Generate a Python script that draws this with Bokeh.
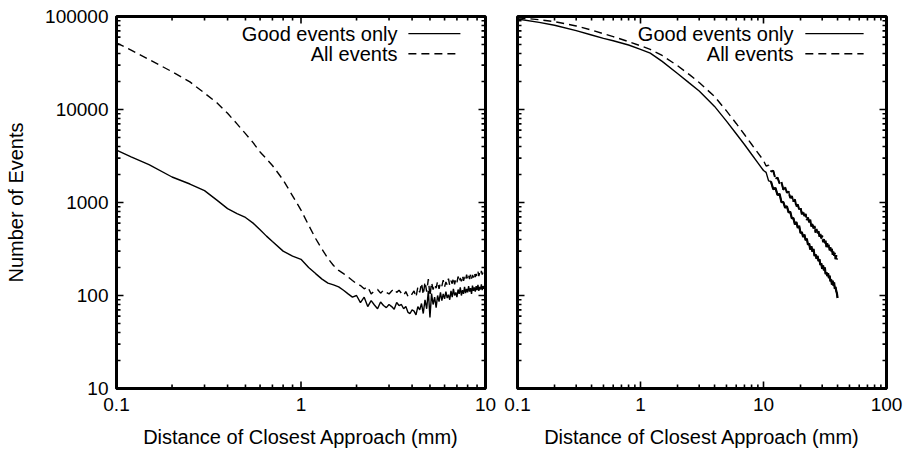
from math import log10
from bokeh.plotting import figure
from bokeh.models import FixedTicker, Label, Range1d, CustomJSTickFormatter
from bokeh.layouts import row
from bokeh.embed import file_html
from bokeh.resources import INLINE

FONT = "Liberation Sans"

# ---------------- data ----------------
y_ticks = [10, 100, 1000, 10000, 100000]
y_tick_labels = ["10", "100", "1000", "10000", "100000"]
x_ticks_left = [0.1, 1, 10]
x_tick_labels_left = ["0.1", "1", "10"]
x_ticks_right = [0.1, 1, 10, 100]
x_tick_labels_right = ["0.1", "1", "10", "100"]

x_title = "Distance of Closest Approach (mm)"
y_title = "Number of Events"
legend_labels = ["Good events only", "All events"]

left_x = [0.10, 0.12, 0.15, 0.20, 0.25, 0.30, 0.35, 0.40, 0.45, 0.50, 0.55, 0.60, 0.65,
          0.70, 0.80, 0.90, 1.0, 1.1, 1.2, 1.3, 1.4, 1.5, 1.6, 1.7, 1.8, 1.9,
          2.0, 2.1, 2.2, 2.3, 2.4, 2.5, 2.6, 2.7, 2.8, 2.9,
          3.0, 3.1, 3.2, 3.3, 3.4, 3.5, 3.6, 3.7, 3.8, 3.9,
          4.0, 4.1, 4.2, 4.3, 4.4, 4.5, 4.6, 4.7, 4.8, 4.9,
          5.0, 5.1, 5.2, 5.3, 5.4, 5.5, 5.6, 5.7, 5.8, 5.9,
          6.0, 6.1, 6.2, 6.3, 6.4, 6.5, 6.6, 6.7, 6.8, 6.9,
          7.0, 7.1, 7.2, 7.3, 7.4, 7.5, 7.6, 7.7, 7.8, 7.9,
          8.0, 8.1, 8.2, 8.3, 8.4, 8.5, 8.6, 8.7, 8.8, 8.9,
          9.0, 9.1, 9.2, 9.3, 9.4, 9.5, 9.6, 9.7, 9.8, 9.9, 10.0]

left_good = [3650, 3100, 2550, 1880, 1580, 1340, 1060, 860, 760, 690, 600, 510, 435,
             380, 300, 265, 245, 200, 172, 150, 136, 130, 124, 114, 104, 96,
             100, 84, 96, 76, 88, 79, 72, 85, 78, 74,
             80, 76, 71, 84, 78, 80, 72, 76, 66, 64,
             70, 68, 62, 76, 70, 82, 64, 90, 72, 112,
             58, 105, 80, 96, 74, 100, 86, 108, 88, 104,
             92, 110, 94, 102, 90, 112, 96, 118, 100, 108,
             96, 116, 104, 122, 100, 114, 104, 124, 106, 118,
             108, 126, 110, 120, 104, 128, 112, 122, 110, 126,
             114, 130, 112, 124, 116, 132, 114, 126, 118, 130, 120]

left_all = [52000, 43500, 34500, 25500, 19800, 15000, 11800, 9100, 7000, 5500, 4400, 3500, 2950,
            2500, 1750, 1180, 830, 570, 410, 315, 250, 210, 186, 172, 158, 145,
            134, 128, 118, 124, 104, 112, 116, 106, 114, 108,
            104, 112, 118, 108, 114, 106, 100, 110, 98, 96,
            104, 112, 96, 124, 108, 136, 102, 140, 110, 150,
            98, 138, 116, 132, 120, 142, 118, 136, 126, 146,
            124, 140, 130, 152, 128, 144, 134, 156, 132, 150,
            138, 160, 140, 154, 142, 164, 144, 158, 146, 168,
            148, 162, 150, 170, 152, 166, 156, 176, 158, 170,
            160, 180, 162, 174, 164, 184, 168, 178, 170, 186, 176]

right_x = [0.1, 0.15, 0.2, 0.3, 0.4, 0.5, 0.6, 0.8, 1.0, 1.2, 1.5, 2.0, 2.5, 3.0, 3.5, 4.0,
           5.0, 6.0, 7.0, 8.0, 9.0, 10.0,
           10.5, 11.0, 11.5, 12.0, 12.5, 13.0, 13.5, 14.0, 14.5, 15.0,
           15.5, 16.0, 16.5, 17.0, 17.5, 18.0, 18.5, 19.0, 19.5, 20.0,
           20.5, 21.0, 21.5, 22.0, 22.5, 23.0, 23.5, 24.0, 24.5, 25.0,
           25.5, 26.0, 26.5, 27.0, 27.5, 28.0, 28.5, 29.0, 29.5, 30.0,
           30.5, 31.0, 31.5, 32.0, 32.5, 33.0, 33.5, 34.0, 34.5, 35.0,
           35.5, 36.0, 36.5, 37.0, 37.5, 38.0, 38.5, 39.0, 39.5, 40.0]

right_good = [94000, 86500, 80600, 70400, 63200, 58100, 54800, 49400, 44400, 40400, 32900,
              24400, 19200, 15800, 12900, 10800, 7500, 5480, 4200, 3300, 2670, 2210,
              2107, 1709, 1684, 1388, 1435, 1206, 1239, 1007, 1013, 877,
              913, 780, 797, 671, 683, 580, 617, 533, 562, 468,
              481, 426, 452, 393, 409, 350, 363, 312, 338, 296,
              316, 266, 277, 248, 266, 234, 246, 213, 222, 193,
              211, 186, 200, 170, 178, 162, 174, 154, 163, 142,
              149, 131, 144, 128, 138, 118, 124, 112, 106, 94]

right_all = [97000, 92500, 88100, 79100, 71500, 65300, 60700, 53700, 48400, 44300, 38100,
             29600, 23700, 19500, 16200, 13800, 9660, 7080, 5380, 4230, 3420, 2830,
             2468, 2515, 2149, 2200, 1798, 1857, 1605, 1662, 1372, 1458,
             1273, 1315, 1116, 1171, 1028, 1080, 903, 954, 841, 888,
             747, 807, 716, 752, 648, 689, 613, 652, 552, 590,
             525, 561, 475, 520, 465, 492, 428, 459, 411, 440,
             375, 404, 363, 389, 332, 365, 329, 350, 306, 330,
             297, 317, 274, 296, 267, 288, 246, 272, 246, 248]

# ---------------- helpers ----------------
H = 453
FRAME_H = 372
Y_RANGE = (10, 100000)
DEC_Y = (log10(Y_RANGE[1]) - log10(Y_RANGE[0])) / FRAME_H


def log_frac(lo, hi, f):
    return 10 ** (log10(lo) + f * (log10(hi) - log10(lo)))


def minor_of(ticks):
    return [t * k for t in ticks[:-1] for k in range(2, 10)]


def make_formatter(ticks, labels):
    return CustomJSTickFormatter(args=dict(tv=ticks, tl=labels), code="""
        for (let i = 0; i < tv.length; i++) {
            if (Math.abs(Math.log10(tv[i]) - Math.log10(tick)) < 1e-6) { return tl[i]; }
        }
        return "";
    """)


def style_axis(ax, ticks, labels, standoff=8):
    ax.ticker = FixedTicker(ticks=ticks)
    ax.formatter = make_formatter(ticks, labels)
    ax.axis_line_color = "black"
    ax.axis_line_width = 3
    ax.major_tick_in = 0
    ax.major_tick_out = 0
    ax.minor_tick_in = 0
    ax.minor_tick_out = 0
    ax.major_label_text_font = FONT
    ax.major_label_text_color = "black"
    ax.major_label_text_font_size = "19px"
    ax.major_label_standoff = standoff
    ax.axis_label_text_font = FONT
    ax.axis_label_text_font_size = "20px"
    ax.axis_label_text_font_style = "normal"
    ax.axis_label_text_color = "black"


def add_ticks(p, xr, x_ticks, frame_w):
    # inward ticks on all four sides (major 7px, minor 4px)
    dec_x = (log10(xr[1]) - log10(xr[0])) / frame_w
    for xs_, ys_, L in ((x_ticks, y_ticks, 7), (minor_of(x_ticks), minor_of(y_ticks), 4)):
        fy = 10 ** (L * DEC_Y)
        fx = 10 ** (L * dec_x)
        n = len(xs_)
        m = len(ys_)
        kw = dict(line_color="black", line_width=1.6)
        p.segment(x0=xs_, y0=[Y_RANGE[0]] * n, x1=xs_, y1=[Y_RANGE[0] * fy] * n, **kw)
        p.segment(x0=xs_, y0=[Y_RANGE[1]] * n, x1=xs_, y1=[Y_RANGE[1] / fy] * n, **kw)
        p.segment(x0=[xr[0]] * m, y0=ys_, x1=[xr[0] * fx] * m, y1=ys_, **kw)
        p.segment(x0=[xr[1]] * m, y0=ys_, x1=[xr[1] / fx] * m, y1=ys_, **kw)


def make_panel(width, x_range, x_ticks, x_labels, border_left, border_right, show_y):
    p = figure(width=width, height=H, x_axis_type="log", y_axis_type="log",
               x_range=Range1d(*x_range), y_range=Range1d(*Y_RANGE),
               output_backend="svg", toolbar_location=None,
               min_border_left=border_left, min_border_right=border_right,
               min_border_top=16, min_border_bottom=65)
    p.background_fill_color = "white"
    p.border_fill_color = "white"
    p.outline_line_color = "black"
    p.outline_line_width = 3
    p.xgrid.visible = False
    p.ygrid.visible = False

    style_axis(p.xaxis[0], x_ticks, x_labels, standoff=9)
    p.xaxis[0].axis_label = x_title
    p.xaxis[0].axis_label_standoff = 12
    if show_y:
        style_axis(p.yaxis[0], y_ticks, y_tick_labels, standoff=8)
        p.yaxis[0].axis_label = y_title
        p.yaxis[0].axis_label_standoff = 15
    else:
        p.yaxis[0].visible = False

    add_ticks(p, x_range, x_ticks, width - border_left - border_right)
    return p


def add_curves(p, xs, good, allv, tail_from):
    p.line(xs, good, line_color="black", line_width=1.4)
    p.line(xs, allv, line_color="black", line_width=1.4, line_dash="8 5")
    if tail_from is not None:
        # the dense, noisy tails read as a thicker band in the original
        p.line(xs[tail_from:], good[tail_from:], line_color="black", line_width=2.2)
        p.line(xs[tail_from:], allv[tail_from:], line_color="black", line_width=2.0,
               line_dash="9 2")


def add_legend(p, x_range, text_right, line_from, line_to):
    rows = [0.954, 0.900]
    dashes = ["solid", "8 5"]
    for lab, fy, dash in zip(legend_labels, rows, dashes):
        y = log_frac(Y_RANGE[0], Y_RANGE[1], fy)
        p.add_layout(Label(x=log_frac(x_range[0], x_range[1], text_right), y=y,
                           text=lab, text_align="right", text_baseline="middle",
                           text_font=FONT, text_font_size="20px", text_color="black"))
        p.segment(x0=[log_frac(x_range[0], x_range[1], line_from)], y0=[y],
                  x1=[log_frac(x_range[0], x_range[1], line_to)], y1=[y],
                  line_color="black", line_width=1.4, line_dash=dash)


left_range = (0.1, 10)
right_range = (0.1, 100)

p1 = make_panel(501, left_range, x_ticks_left, x_tick_labels_left, 116, 16, True)
add_curves(p1, left_x, left_good, left_all, None)
add_legend(p1, left_range, 0.7615, 0.791, 0.932)

p2 = make_panel(405, right_range, x_ticks_right, x_tick_labels_right, 16, 20, False)
add_curves(p2, right_x, right_good, right_all, 24)
add_legend(p2, right_range, 0.748, 0.780, 0.938)

layout = row(p1, p2)
open("out.html", "w").write(file_html(layout, INLINE))
